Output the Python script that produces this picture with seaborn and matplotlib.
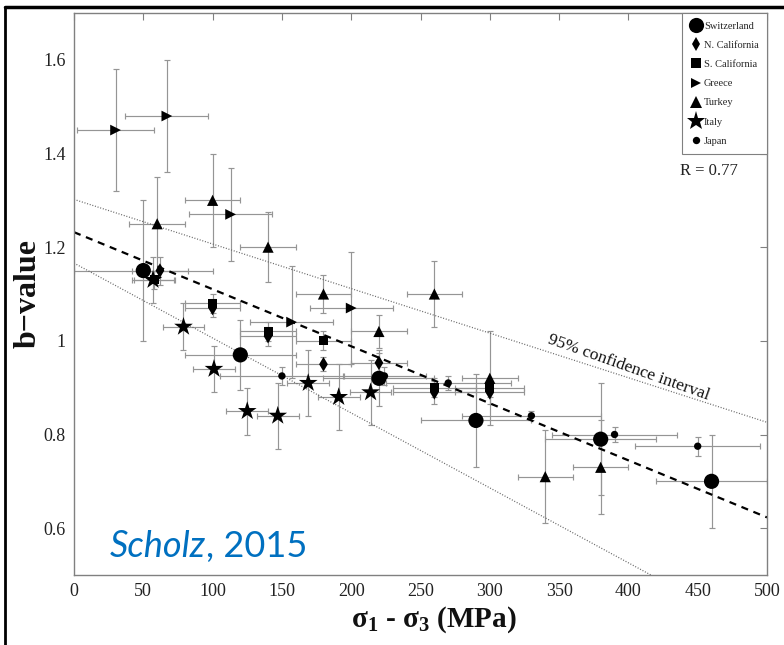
import numpy as np
import pandas as pd
import matplotlib
matplotlib.use("Agg")
import matplotlib.pyplot as plt
import seaborn as sns
from matplotlib.lines import Line2D
from matplotlib.ticker import FuncFormatter

# ---------------- data ----------------
regions = ["Switzerland", "N. California", "S. California", "Greece", "Turkey", "Italy", "Japan"]

sw_x = [50, 120, 220, 290, 380, 460]
sw_y = [1.15, 0.97, 0.92, 0.83, 0.79, 0.70]
sw_xerr = [50, 40, 40, 40, 40, 40]
sw_yerr = [0.15, 0.075, 0.06, 0.10, 0.12, 0.10]

nc_x = [62, 100, 140, 180, 220, 260, 300]
nc_y = [1.15, 1.07, 1.01, 0.95, 0.953, 0.89, 0.89]
nc_xerr = [20, 20, 20, 20, 20, 30, 25]
nc_yerr = [0.03, 0.02, 0.02, 0.015, 0.02, 0.025, 0.025]

sc_x = [58, 100, 140, 180, 260, 300]
sc_y = [1.13, 1.08, 1.02, 1.00, 0.90, 0.90]
sc_xerr = [15, 20, 20, 20, 30, 25]
sc_yerr = [0.02, 0.02, 0.02, 0.02, 0.02, 0.02]

gr_x = [30, 67, 113, 157, 200]
gr_y = [1.45, 1.48, 1.27, 1.04, 1.07]
gr_xerr = [28, 30, 30, 30, 30]
gr_yerr = [0.13, 0.12, 0.10, 0.12, 0.12]

tu_x = [60, 100, 140, 180, 220, 260, 300, 340, 380]
tu_y = [1.25, 1.30, 1.20, 1.10, 1.02, 1.10, 0.92, 0.71, 0.73]
tu_xerr = [20, 20, 20, 20, 20, 20, 20, 20, 20]
tu_yerr = [0.10, 0.10, 0.075, 0.04, 0.035, 0.07, 0.10, 0.10, 0.10]

it_x = [57, 79, 101, 125, 147, 169, 191, 214]
it_y = [1.13, 1.03, 0.94, 0.85, 0.84, 0.91, 0.88, 0.89]
it_xerr = [15, 15, 15, 15, 15, 15, 15, 15]
it_yerr = [0.05, 0.05, 0.05, 0.05, 0.07, 0.07, 0.07, 0.07]

jp_x = [150, 224, 270, 330, 390, 450]
jp_y = [0.925, 0.925, 0.91, 0.84, 0.80, 0.775]
jp_xerr = [45, 30, 45, 50, 45, 45]
jp_yerr = [0.02, 0.02, 0.015, 0.01, 0.015, 0.02]

# regression and 95% confidence lines (intercept, slope)
fit_line = (1.232, -0.001218)
ci_upper = (1.302, -0.000952)
ci_lower = (1.166, -0.00160)
line_x = [0, 500]

x_ticks = [0, 50, 100, 150, 200, 250, 300, 350, 400, 450, 500]
y_ticks = [0.6, 0.8, 1.0, 1.2, 1.4, 1.6]
r_text = "R = 0.77"

# ---------------- build table ----------------
series = {
    "Switzerland": (sw_x, sw_y, sw_xerr, sw_yerr),
    "N. California": (nc_x, nc_y, nc_xerr, nc_yerr),
    "S. California": (sc_x, sc_y, sc_xerr, sc_yerr),
    "Greece": (gr_x, gr_y, gr_xerr, gr_yerr),
    "Turkey": (tu_x, tu_y, tu_xerr, tu_yerr),
    "Italy": (it_x, it_y, it_xerr, it_yerr),
    "Japan": (jp_x, jp_y, jp_xerr, jp_yerr),
}
rows = []
for reg, (xs, ys, xe, ye) in series.items():
    for a, b, c, d in zip(xs, ys, xe, ye):
        rows.append(dict(region=reg, x=a, y=b, xerr=c, yerr=d))
df = pd.DataFrame(rows)

lx = np.array(line_x, dtype=float)
lines_df = pd.DataFrame({
    "x": np.concatenate([lx, lx, lx]),
    "y": np.concatenate([fit_line[0] + fit_line[1] * lx,
                         ci_upper[0] + ci_upper[1] * lx,
                         ci_lower[0] + ci_lower[1] * lx]),
    "kind": ["fit"] * 2 + ["upper"] * 2 + ["lower"] * 2,
})

# ---------------- style ----------------
sns.set_style("white")
plt.rcParams["font.family"] = ["Liberation Serif", "DejaVu Serif"]
plt.rcParams["mathtext.fontset"] = "custom"
plt.rcParams["mathtext.rm"] = "Liberation Serif"
plt.rcParams["mathtext.it"] = "Liberation Serif:italic"
plt.rcParams["mathtext.bf"] = "Liberation Serif:bold"

fig = plt.figure(figsize=(7.84, 6.45), dpi=100)
ax = fig.add_axes([74 / 784, 1 - 575 / 645, (767 - 74) / 784, (575 - 13) / 645])

# error bars
for reg, (xs, ys, xe, ye) in series.items():
    ax.errorbar(xs, ys, xerr=xe, yerr=ye, fmt="none", ecolor="#959595",
                elinewidth=0.85, capsize=2.5, capthick=0.85, zorder=1)

# lines
sns.lineplot(data=lines_df[lines_df.kind == "fit"], x="x", y="y", ax=ax,
             color="black", linestyle=(0, (3.2, 2.6)), linewidth=1.6, zorder=2)
for k in ["upper", "lower"]:
    sns.lineplot(data=lines_df[lines_df.kind == k], x="x", y="y", ax=ax,
                 color="#666666", linestyle=(0, (0.8, 1.4)), linewidth=0.9, zorder=2)

markers = {"Switzerland": "o", "N. California": "d", "S. California": "s",
           "Greece": ">", "Turkey": "^", "Italy": "*", "Japan": "o"}
sizes = {"Switzerland": 120, "N. California": 55, "S. California": 42,
         "Greece": 60, "Turkey": 65, "Italy": 200, "Japan": 28}
palette = {r: "black" for r in regions}

sns.scatterplot(data=df, x="x", y="y", hue="region", style="region", size="region",
                hue_order=regions, style_order=regions, size_order=regions,
                palette=palette, markers=markers, sizes=sizes,
                edgecolor="black", linewidth=0, zorder=3, ax=ax, legend="full")

ax.set_xlim(0, 500)
ax.set_ylim(0.5, 1.7)
ax.set_xticks(x_ticks)
ax.set_yticks(y_ticks)
ax.yaxis.set_major_formatter(FuncFormatter(lambda v, p: f"{v:g}"))
ax.tick_params(direction="in", length=5, width=0.8, color="#808080",
               top=True, right=True, labelsize=13, labelcolor="#222222", pad=6)
for s in ax.spines.values():
    s.set_color("#808080")
    s.set_linewidth(1.0)

ax.set_xlabel(r"$\mathbf{\sigma_1}$ - $\mathbf{\sigma_3}$ (MPa)", fontsize=21,
              fontweight="bold", color="#111111")
ax.xaxis.set_label_coords((434 - 74) / 693, -(620 - 575) / 562)
ax.xaxis.label.set_va("center")
ax.set_ylabel("b\u2212value", fontsize=23, fontweight="bold", color="#111111")
ax.yaxis.set_label_coords(-(74 - 28) / 693, 0.5)
ax.yaxis.label.set_va("center")

# legend
sns.move_legend(ax, "upper right", bbox_to_anchor=(1.0, 1.0), title=None,
                frameon=True, fontsize=7.5, labelspacing=0.95, handlelength=1.0,
                handletextpad=0.3, borderpad=0.8, borderaxespad=0.0,
                fancybox=False, framealpha=1, edgecolor="#808080", markerscale=1.0)
leg = ax.get_legend()
leg.get_frame().set_linewidth(0.8)

ax.text(437, 1.362, r_text, fontsize=12, color="#222222", va="center", ha="left")
ax.text(400, 0.943, "95% confidence interval", fontsize=12.5, rotation=-19.5,
        rotation_mode="anchor", ha="center", va="center", color="#111111")

t1 = ax.text(0.052, 0.032, "Scholz", transform=ax.transAxes, fontsize=26,
             color="#0070C0", family=["Lato", "DejaVu Sans"], style="italic",
             ha="left", va="baseline")
ax.annotate(", 2015", xy=(1, 0), xycoords=t1, va="bottom", ha="left",
            fontsize=26, color="#0070C0", family=["Lato", "DejaVu Sans"])

# slide frame lines
fig.add_artist(Line2D([5 / 784, 5 / 784], [0, 1 - 7 / 645], transform=fig.transFigure,
                      color="black", linewidth=2))
fig.add_artist(Line2D([5 / 784, 1], [1 - 7 / 645, 1 - 7 / 645], transform=fig.transFigure,
                      color="black", linewidth=2.5))

fig.savefig("out.png", dpi=100)
